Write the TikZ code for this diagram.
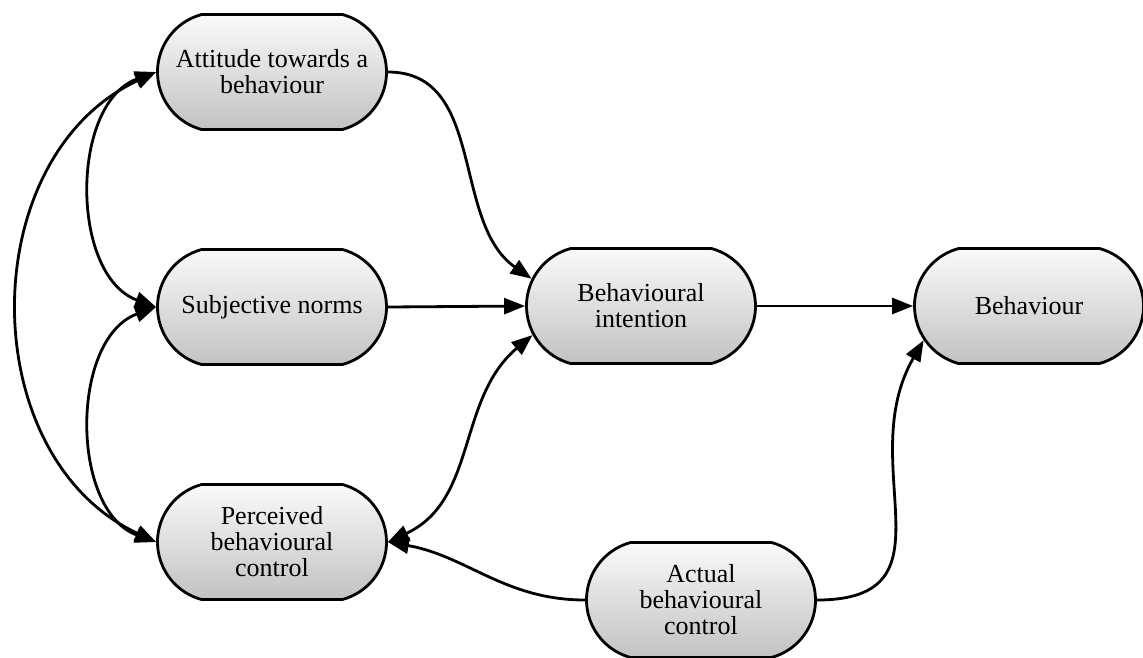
\documentclass[tikz,border=0pt]{standalone}
\usepackage{fontspec}
\setmainfont{Liberation Serif}
\usepackage{tikz}
\usetikzlibrary{positioning,shapes.misc,arrows.meta,calc}
\definecolor{ink}     {HTML}{000000}
\definecolor{boxtop}  {HTML}{FAFAFA}
\definecolor{boxbot}  {HTML}{C2C2C2}
\tikzset{
  >={Triangle[length=21pt,width=16pt]},
  % --- nodes
  stage/.style = {rounded rectangle, rounded rectangle arc length=150,
                  draw=ink, line width=2.8pt, top color=boxtop, bottom color=boxbot,
                  minimum width=233pt, minimum height=115pt, inner sep=2pt,
                  align=center, font=\fontsize{26}{26}\selectfont},
  % --- edges
  e/.style     = {->, line width=2.8pt, draw=ink},
  ee/.style    = {<->, line width=2.8pt, draw=ink},
}
\begin{document}
\begin{tikzpicture}[x=1pt,y=1pt]
  \useasboundingbox (0,0) rectangle (1143,-657);
  \node[stage] (att) at (272,-72)  {Attitude towards a\\behaviour};
  \node[stage] (sub) at (272,-307) {Subjective norms};
  \node[stage] (per) at (272,-542) {Perceived\\behavioural\\control};
  \node[stage] (bi)  at (641,-306) {Behavioural\\intention};
  \node[stage] (beh) at (1029,-306) {Behaviour};
  \node[stage] (act) at (701,-600) {Actual\\behavioural\\control};
  % left side: correlations between the three beliefs
  \draw[ee] (att.west) to[out=200,in=160] (sub.west);
  \draw[ee] (sub.west) to[out=200,in=160] (per.west);
  \draw[ee] (att.west) to[out=205,in=155,looseness=1.1] (per.west);
  % into the intention
  \draw[e] (att.east) to[out=0,in=145] (bi.166);
  \draw[e] (sub.east) -- (bi.west);
  \draw[ee] (per.east) to[out=25,in=220] (bi.195);
  \draw[e] (bi.east) -- (beh.west);
  % actual control
  \draw[e] (act.west) to[out=180,in=-10] (per.east);
  \draw[e] (act.east) to[out=0,in=240,looseness=1.3] (beh.198);
\end{tikzpicture}
\end{document}
